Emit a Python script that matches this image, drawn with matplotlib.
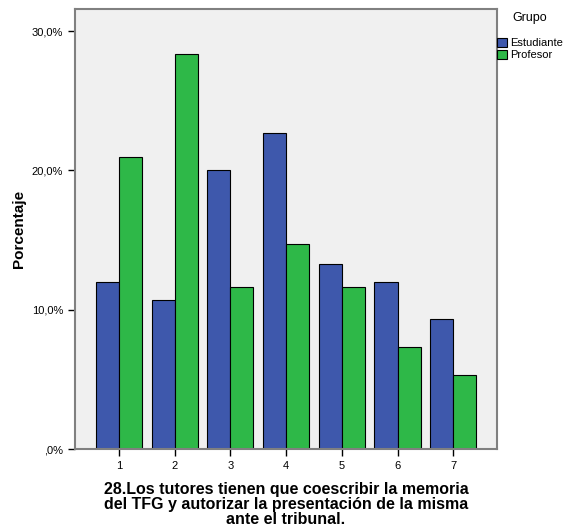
import matplotlib
matplotlib.use("Agg")
import matplotlib.pyplot as plt
import numpy as np

plt.rcParams['font.family'] = ['Liberation Sans', 'DejaVu Sans']

# datos
categorias = ["1", "2", "3", "4", "5", "6", "7"]
estudiante = [12.0, 10.7, 20.0, 22.7, 13.3, 12.0, 9.3]
profesor = [21.0, 28.4, 11.6, 14.7, 11.6, 7.3, 5.3]
y_ticks = [0, 10, 20, 30]
y_labels = [",0%", "10,0%", "20,0%", "30,0%"]

fig = plt.figure(figsize=(5.67, 5.27), dpi=100)
ax = fig.add_axes([0.132, 0.148, 0.745, 0.835])
ax.set_facecolor("#F0F0F0")

x = np.arange(1, len(categorias) + 1)
w = 0.413
ax.bar(x - w / 2, estudiante, w, color="#3E58AC", edgecolor="black",
       linewidth=0.8, label="Estudiante")
ax.bar(x + w / 2, profesor, w, color="#2EB848", edgecolor="black",
       linewidth=0.8, label="Profesor")

ax.set_xlim(0.21, 7.79)
ax.set_ylim(0, 31.6)
ax.set_xticks(x)
ax.set_xticklabels(categorias, fontsize=8)
ax.set_yticks(y_ticks)
ax.set_yticklabels(y_labels, fontsize=8)
ax.tick_params(length=5, width=1, color="black")
for s in ax.spines.values():
    s.set_color("#808080")
    s.set_linewidth(1.5)

ax.set_ylabel("Porcentaje", fontsize=11, fontweight="bold")
ax.yaxis.set_label_coords(-0.116, 0.5)
ax.set_xlabel("28.Los tutores tienen que coescribir la memoria\n"
              "del TFG y autorizar la presentación de la misma\n"
              "ante el tribunal.", fontsize=11.5, fontweight="bold",
              linespacing=1.0, labelpad=8)

# leyenda
fig.text(530 / 567, 1 - 18 / 527, "Grupo", fontsize=9, ha="center", va="center")
fig.legend(loc="upper left", bbox_to_anchor=(497 / 567, 1 - 38 / 527),
           fontsize=8, frameon=False, handlelength=0.9, handleheight=0.9,
           handletextpad=0.3, labelspacing=0.1, borderaxespad=0,
           borderpad=0)

fig.savefig("out.png", dpi=100)
